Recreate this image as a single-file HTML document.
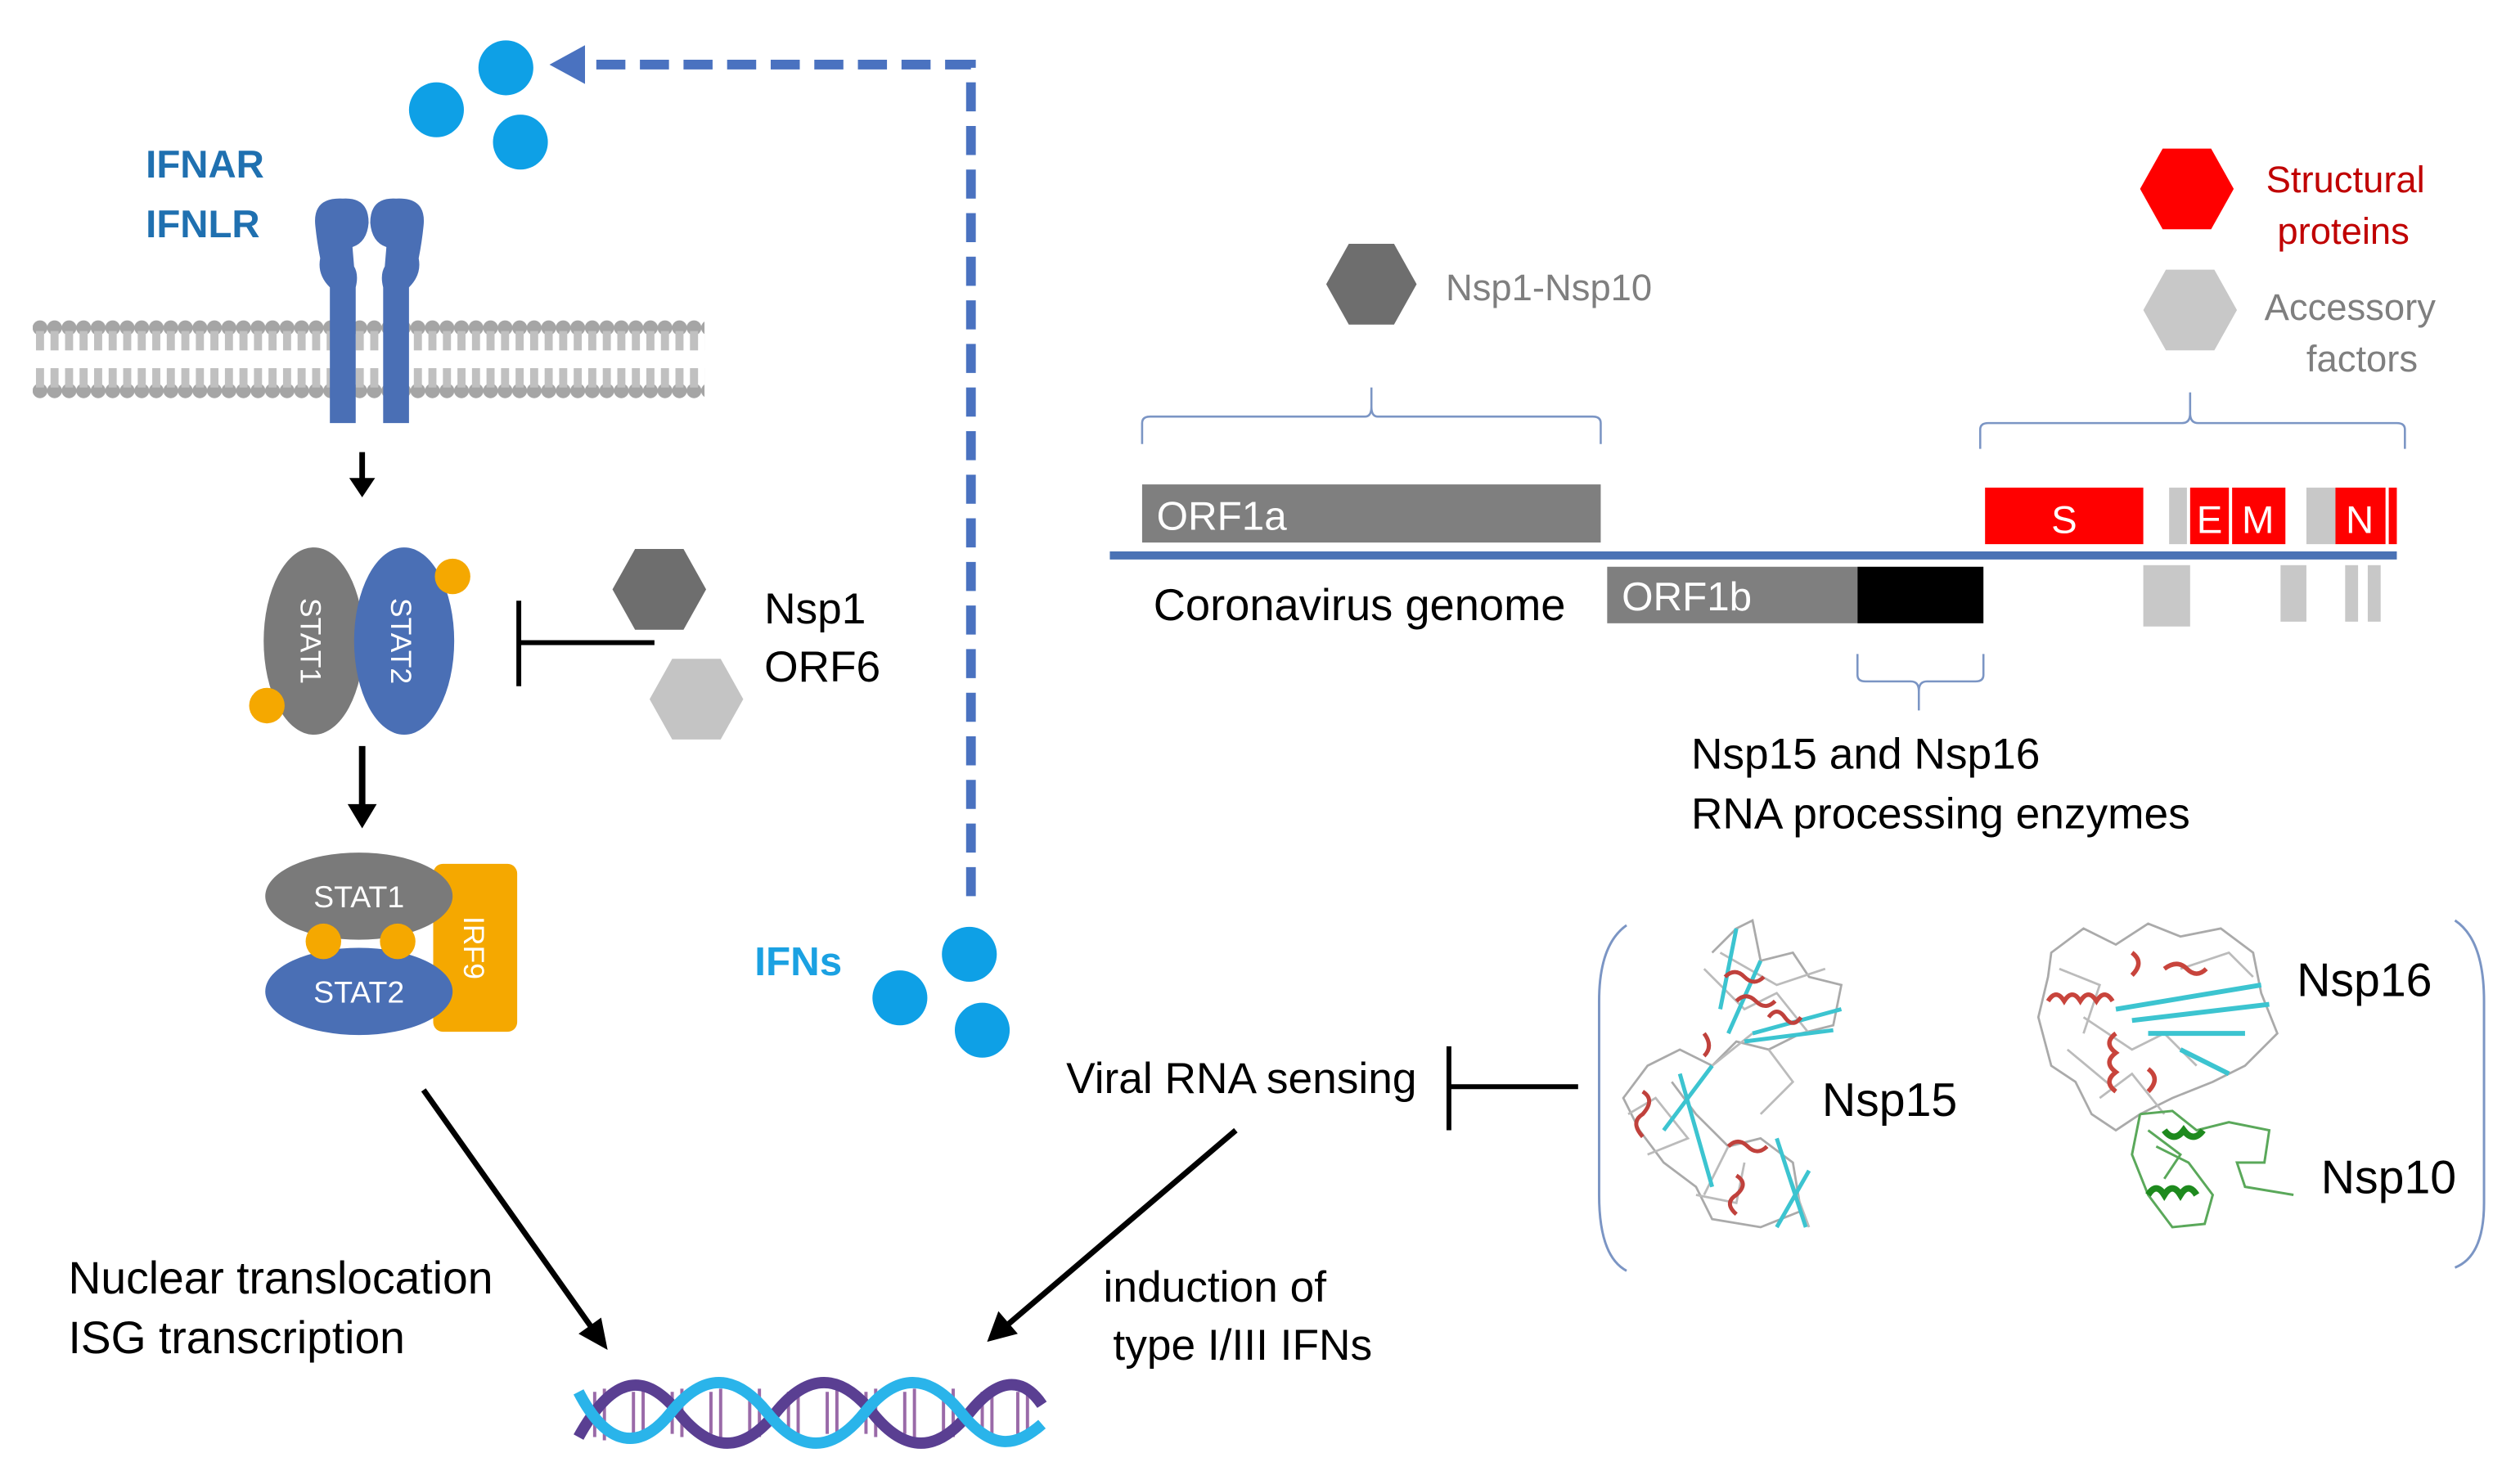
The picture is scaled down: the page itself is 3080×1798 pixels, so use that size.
<!DOCTYPE html>
<html><head><meta charset="utf-8"><style>
html,body{margin:0;padding:0;background:#fff}
svg{display:block}
text{font-family:"Liberation Sans",sans-serif}
</style></head><body>
<svg width="3080" height="1798" viewBox="0 0 1560 911" xmlns="http://www.w3.org/2000/svg">
<defs>
<pattern id="mem" x="20" y="0" width="9" height="911" patternUnits="userSpaceOnUse">
<circle cx="4.5" cy="203" r="4.6" fill="#a5a5a5"/>
<rect x="2" y="205" width="5" height="12" fill="#c0c0c0"/>
<circle cx="4.5" cy="242" r="4.6" fill="#a5a5a5"/>
<rect x="2" y="228" width="5" height="12" fill="#c0c0c0"/>
</pattern>
</defs>

<path d="M601,555 L601,40 L365,40" fill="none" stroke="#4a72c0" stroke-width="6" stroke-dasharray="18,9"/>
<path d="M340,40 L362,28 L362,52 Z" fill="#4a72c0"/>
<circle cx="313" cy="42" r="17" fill="#0ea0e6"/>
<circle cx="270" cy="68" r="17" fill="#0ea0e6"/>
<circle cx="322" cy="88" r="17" fill="#0ea0e6"/>

<text x="90" y="110" font-size="24" font-weight="bold" fill="#1f70b0">IFNAR</text>
<text x="90" y="147" font-size="24" font-weight="bold" fill="#1f70b0">IFNLR</text>

<rect x="20" y="196" width="416" height="52" fill="url(#mem)"/>
<g fill="#4a6fb5">
<path d="M195,140 Q193,122 212,123 Q228,122 228,138 Q227,150 218,153 L219,165 Q222,170 220,178 L220,262 L204,262 L204,178 Q196,170 198,160 Q196,150 195,140 Z"/>
<path d="M262,140 Q264,122 245,123 Q229,122 229,138 Q230,150 239,153 L238,165 Q235,170 237,178 L237,262 L253,262 L253,178 Q261,170 259,160 Q261,150 262,140 Z"/>
</g>
<line x1="224" y1="280" x2="224" y2="298" stroke="#000" stroke-width="3.5"/>
<path d="M216,296 L232,296 L224,308 Z"/>

<ellipse cx="194" cy="397" rx="31" ry="58" fill="#7a7a7a"/>
<ellipse cx="250" cy="397" rx="31" ry="58" fill="#4a6fb5"/>
<text transform="translate(186,397) rotate(90)" text-anchor="middle" font-size="18" fill="#fff">STAT1</text>
<text transform="translate(242,397) rotate(90)" text-anchor="middle" font-size="18" fill="#fff">STAT2</text>
<circle cx="280" cy="357" r="11" fill="#f5a800"/>
<circle cx="165" cy="437" r="11" fill="#f5a800"/>

<line x1="321" y1="398" x2="405" y2="398" stroke="#000" stroke-width="3"/>
<line x1="321" y1="372" x2="321" y2="425" stroke="#000" stroke-width="3"/>
<polygon points="379,365 393,340 423,340 437,365 423,390 393,390" fill="#6e6e6e"/>
<polygon points="402,433 416,408 446,408 460,433 446,458 416,458" fill="#c4c4c4"/>
<text x="473" y="386" font-size="27" fill="#000">Nsp1</text>
<text x="473" y="422" font-size="27" fill="#000">ORF6</text>

<line x1="224" y1="462" x2="224" y2="500" stroke="#000" stroke-width="4"/>
<path d="M215,498 L233,498 L224,513 Z"/>

<rect x="268" y="535" width="52" height="104" rx="6" fill="#f5a800"/>
<text transform="translate(287,587) rotate(90)" text-anchor="middle" font-size="18" fill="#fff">IRF9</text>
<ellipse cx="222" cy="614" rx="58" ry="27" fill="#4a6fb5"/>
<ellipse cx="222" cy="555" rx="58" ry="27" fill="#7a7a7a"/>
<circle cx="200" cy="583" r="11" fill="#f5a800"/>
<circle cx="246" cy="583" r="11" fill="#f5a800"/>
<text x="222" y="562" text-anchor="middle" font-size="19" fill="#fff">STAT1</text>
<text x="222" y="621" text-anchor="middle" font-size="19" fill="#fff">STAT2</text>

<line x1="262" y1="675" x2="366" y2="822" stroke="#000" stroke-width="3.5"/>
<path d="M376,836 L358,826 L372,816 Z"/>
<line x1="765" y1="700" x2="623" y2="821" stroke="#000" stroke-width="3.5"/>
<path d="M611,831 L618,812 L630,826 Z"/>

<text x="42" y="801" font-size="28" fill="#000">Nuclear translocation</text>
<text x="42" y="838" font-size="28" fill="#000">ISG transcription</text>

<g>
<g stroke="#9a6aa8" stroke-width="2">
<line x1="368" y1="862" x2="368" y2="890"/><line x1="374" y1="860" x2="374" y2="892"/>
<line x1="392" y1="862" x2="392" y2="888"/><line x1="398" y1="860" x2="398" y2="890"/>
<line x1="416" y1="862" x2="416" y2="888"/><line x1="422" y1="860" x2="422" y2="890"/>
<line x1="440" y1="862" x2="440" y2="888"/><line x1="446" y1="860" x2="446" y2="890"/>
<line x1="464" y1="862" x2="464" y2="888"/><line x1="470" y1="860" x2="470" y2="890"/>
<line x1="488" y1="862" x2="488" y2="888"/><line x1="494" y1="860" x2="494" y2="890"/>
<line x1="512" y1="862" x2="512" y2="888"/><line x1="518" y1="860" x2="518" y2="890"/>
<line x1="536" y1="862" x2="536" y2="888"/><line x1="542" y1="860" x2="542" y2="890"/>
<line x1="560" y1="862" x2="560" y2="888"/><line x1="566" y1="860" x2="566" y2="890"/>
<line x1="584" y1="862" x2="584" y2="888"/><line x1="590" y1="860" x2="590" y2="890"/>
<line x1="608" y1="862" x2="608" y2="888"/><line x1="614" y1="860" x2="614" y2="890"/>
<line x1="630" y1="862" x2="630" y2="888"/><line x1="636" y1="860" x2="636" y2="890"/>
</g>
<path d="M358,890 C380,850 400,850 420,875 C440,900 460,900 480,875 C500,850 520,850 540,875 C560,900 580,900 600,875 C620,850 635,855 645,870" fill="none" stroke="#5a3f92" stroke-width="7"/>
<path d="M358,862 C375,895 395,900 415,875 C435,850 455,850 475,875 C495,900 515,900 535,875 C555,850 575,850 595,875 C615,900 630,895 645,882" fill="none" stroke="#2ab4ea" stroke-width="7"/>
</g>

<text x="467" y="604" font-size="25" font-weight="bold" fill="#1ba1e2">IFNs</text>
<circle cx="600" cy="591" r="17" fill="#0ea0e6"/>
<circle cx="557" cy="618" r="17" fill="#0ea0e6"/>
<circle cx="608" cy="638" r="17" fill="#0ea0e6"/>

<text x="660" y="677" font-size="27" fill="#000">Viral RNA sensing</text>
<line x1="897" y1="673" x2="977" y2="673" stroke="#000" stroke-width="3"/>
<line x1="897" y1="648" x2="897" y2="700" stroke="#000" stroke-width="3"/>
<text x="683" y="806" font-size="27" fill="#000">induction of</text>
<text x="689" y="842" font-size="27" fill="#000">type I/III IFNs</text>

<text x="895" y="186" font-size="23" fill="#7f7f7f">Nsp1-Nsp10</text>
<polygon points="821,176 835,151 863,151 877,176 863,201 835,201" fill="#6e6e6e"/>
<polygon points="1325,117 1339,92 1369,92 1383,117 1369,142 1339,142" fill="#ff0000"/>
<polygon points="1327,192 1341,167 1371,167 1385,192 1371,217 1341,217" fill="#c8c8c8"/>
<text x="1403" y="119" font-size="23" fill="#c00000">Structural</text>
<text x="1410" y="151" font-size="23" fill="#c00000">proteins</text>
<text x="1402" y="198" font-size="23" fill="#7f7f7f">Accessory</text>
<text x="1428" y="230" font-size="23" fill="#7f7f7f">factors</text>

<g fill="none" stroke="#7b95c4" stroke-width="1.3">
<path d="M707,275 L707,262 Q707,258 712,258 L845,258 Q849,258 849,252 L849,240 M849,252 Q849,258 853,258 L986,258 Q991,258 991,262 L991,275"/>
<path d="M1226,278 L1226,266 Q1226,262 1231,262 L1351,262 Q1356,262 1356,256 L1356,243 M1356,256 Q1356,262 1361,262 L1484,262 Q1489,262 1489,266 L1489,278"/>
<path d="M1150,405 L1150,418 Q1150,422 1155,422 L1183,422 Q1188,422 1188,428 L1188,440 M1188,428 Q1188,422 1193,422 L1223,422 Q1228,422 1228,418 L1228,405"/>
</g>

<rect x="707" y="300" width="284" height="36" fill="#7f7f7f"/>
<text x="716" y="328" font-size="25" fill="#fff">ORF1a</text>
<rect x="1229" y="302" width="98" height="35" fill="#ff0000"/>
<text x="1278" y="330" text-anchor="middle" font-size="24" fill="#fff">S</text>
<rect x="1343" y="302" width="11" height="35" fill="#c8c8c8"/>
<rect x="1356" y="302" width="24" height="35" fill="#ff0000"/>
<rect x="1382" y="302" width="33" height="35" fill="#ff0000"/>
<text x="1368" y="330" text-anchor="middle" font-size="24" fill="#fff">E</text>
<text x="1398" y="330" text-anchor="middle" font-size="24" fill="#fff">M</text>
<rect x="1428" y="302" width="18" height="35" fill="#c8c8c8"/>
<rect x="1446" y="302" width="31" height="35" fill="#ff0000"/>
<rect x="1479" y="302" width="5" height="35" fill="#ff0000"/>
<text x="1461" y="330" text-anchor="middle" font-size="24" fill="#fff">N</text>

<line x1="687" y1="344" x2="1484" y2="344" stroke="#4a72b5" stroke-width="5"/>

<rect x="995" y="351" width="155" height="35" fill="#7f7f7f"/>
<rect x="1150" y="351" width="78" height="35" fill="#000"/>
<text x="1004" y="378" font-size="25" fill="#fff">ORF1b</text>
<rect x="1327" y="350" width="29" height="38" fill="#c8c8c8"/>
<rect x="1412" y="350" width="16" height="35" fill="#c8c8c8"/>
<rect x="1452" y="350" width="8" height="35" fill="#c8c8c8"/>
<rect x="1466" y="350" width="8" height="35" fill="#c8c8c8"/>
<text x="714" y="384" font-size="27.5" fill="#000">Coronavirus genome</text>

<text x="1047" y="476" font-size="27" fill="#000">Nsp15 and Nsp16</text>
<text x="1047" y="513" font-size="27" fill="#000">RNA processing enzymes</text>

<path d="M1007,573 Q990,585 990,620 L990,740 Q990,778 1007,787" fill="none" stroke="#7b95c4" stroke-width="1.5"/>
<path d="M1520,570 Q1538,582 1538,620 L1538,745 Q1538,778 1520,785" fill="none" stroke="#7b95c4" stroke-width="1.5"/>

<g fill="none" stroke-width="1.4">
<path d="M1060,590 L1075,575 L1085,570 L1090,595 L1110,590 L1120,605 L1140,610 L1135,635 L1115,640 L1095,650 L1075,645 L1060,660 L1040,650 L1020,660 L1005,680 L1015,700 L1030,720 L1050,735 L1060,755 L1090,760 L1115,750 L1110,720 L1090,705 L1070,710 L1050,690 L1035,670" stroke="#aaa"/>
<path d="M1055,600 L1080,625 L1100,615 L1120,640 M1030,700 L1060,660 L1085,640 M1070,710 L1055,740 M1105,720 L1120,760 M1008,690 L1025,680 L1045,705 L1020,715 M1050,740 L1075,745 L1080,720 M1095,650 L1110,670 L1090,690 M1065,590 L1100,610 L1130,600" stroke="#bbb"/>
<path d="M1075,575 L1065,625 M1090,595 L1070,640 M1085,640 L1140,625 M1080,645 L1135,638 M1040,665 L1060,735 M1060,660 L1030,700 M1100,705 L1118,760 M1120,725 L1100,760" stroke="#3cc4d0" stroke-width="2.5"/>
<path d="M1068,605 q6,-6 12,0 q6,6 12,0 M1075,620 q6,-6 12,0 q6,6 12,0 M1095,630 q5,-7 10,0 q5,7 10,0 M1055,640 q6,8 0,14 M1017,676 q8,5 0,14 q-8,5 0,14 M1070,710 q6,-6 12,0 q6,6 12,0 M1075,728 q8,5 0,12 q-8,5 0,12" stroke="#c0413c" stroke-width="2.5"/>
</g>
<text x="1128" y="691" font-size="29" fill="#000">Nsp15</text>

<g fill="none" stroke-width="1.4">
<path d="M1270,590 L1290,575 L1310,585 L1330,572 L1350,580 L1375,575 L1395,590 L1400,615 L1410,640 L1390,660 L1370,670 L1345,680 L1325,690 L1310,700 L1295,690 L1285,670 L1270,660 L1262,630 L1268,605 Z" stroke="#aaa"/>
<path d="M1290,630 L1320,650 L1340,640 L1360,660 M1280,650 L1310,675 M1275,600 L1300,610 L1290,640 M1350,600 L1380,590 L1395,605 M1300,680 L1320,665 L1340,690" stroke="#bbb"/>
<path d="M1310,625 L1400,610 M1320,632 L1405,622 M1330,640 L1390,640 M1350,650 L1380,665" stroke="#3cc4d0" stroke-width="3"/>
<path d="M1268,620 q5,-8 10,0 q5,-8 10,0 q5,-8 10,0 q5,-8 10,0 M1320,590 q8,6 0,14 M1340,600 q8,-6 14,0 q6,6 12,0 M1310,640 q-8,6 0,12 q-8,6 0,12 q-8,6 0,12 M1330,662 q8,6 0,14" stroke="#c8443c" stroke-width="2.8"/>
</g>
<g fill="none">
<path d="M1325,690 L1345,688 L1360,700 L1380,695 L1405,700 L1402,720 L1385,720 L1390,735 L1420,740 M1325,690 L1320,715 L1330,740 L1345,760 L1365,758 L1370,740 L1355,720 L1335,710 M1330,700 L1350,715 L1340,730" stroke="#5aa85a" stroke-width="1.5"/>
<path d="M1340,700 q6,8 12,0 q6,8 12,0 M1330,740 q5,-8 10,0 q5,-8 10,0 q5,-8 10,0" stroke="#1e8a1e" stroke-width="4"/>
</g>
<text x="1422" y="617" font-size="29" fill="#000">Nsp16</text>
<text x="1437" y="739" font-size="29" fill="#000">Nsp10</text>
</svg>
</body></html>
